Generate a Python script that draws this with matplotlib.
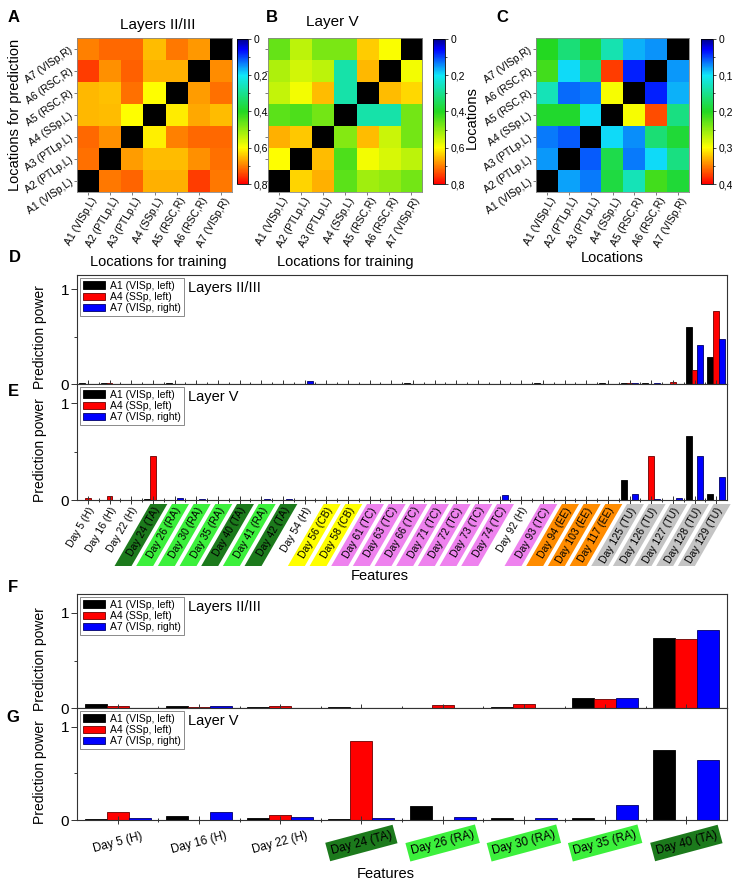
import numpy as np
import matplotlib
matplotlib.use("Agg")
import matplotlib.pyplot as plt
from matplotlib.colors import LinearSegmentedColormap
from matplotlib.patches import Polygon
from matplotlib.ticker import FixedLocator, MultipleLocator
from matplotlib.transforms import blended_transform_factory as blend

plt.rcParams["font.family"] = ["Liberation Sans", "DejaVu Sans"]

W, H = 732, 888
nan = np.nan

# ---- heat maps: rows = prediction location A1..A7 (bottom->top), cols = training A1..A7 ----
locs = ["A1 (VISp,L)", "A2 (PTLp,L)", "A3 (PTLp,L)", "A4 (SSp,L)",
        "A5 (RSC,R)", "A6 (RSC,R)", "A7 (VISp,R)"]
heat_l23 = [
    [nan, 0.706, 0.720, 0.662, 0.662, 0.750, 0.705],
    [0.712, nan, 0.675, 0.650, 0.650, 0.687, 0.712],
    [0.717, 0.687, nan, 0.612, 0.700, 0.717, 0.717],
    [0.656, 0.650, 0.600, nan, 0.613, 0.668, 0.650],
    [0.656, 0.648, 0.712, 0.600, nan, 0.675, 0.712],
    [0.750, 0.687, 0.725, 0.662, 0.662, nan, 0.690],
    [0.700, 0.717, 0.717, 0.650, 0.705, 0.680, nan],
]
heat_l5 = [
    [nan, 0.634, 0.662, 0.450, 0.513, 0.500, 0.475],
    [0.600, nan, 0.650, 0.438, 0.590, 0.563, 0.538],
    [0.662, 0.643, nan, 0.488, 0.650, 0.550, 0.475],
    [0.450, 0.438, 0.475, nan, 0.274, 0.274, 0.475],
    [0.544, 0.590, 0.650, 0.274, nan, 0.650, 0.630],
    [0.525, 0.557, 0.538, 0.274, 0.656, nan, 0.588],
    [0.460, 0.538, 0.480, 0.480, 0.640, 0.595, nan],
]
heat_dist = [
    [nan, 0.079, 0.067, 0.185, 0.131, 0.215, 0.190],
    [0.076, nan, 0.057, 0.180, 0.067, 0.096, 0.156],
    [0.067, 0.057, nan, 0.096, 0.072, 0.162, 0.190],
    [0.195, 0.195, 0.096, nan, 0.296, 0.369, 0.156],
    [0.131, 0.062, 0.067, 0.296, nan, 0.038, 0.084],
    [0.215, 0.096, 0.162, 0.375, 0.038, nan, 0.076],
    [0.200, 0.160, 0.190, 0.133, 0.084, 0.074, nan],
]

# ---- bar data ----
series = ["A1 (VISp, left)", "A4 (SSp, left)", "A7 (VISp, right)"]
features = ["Day 5 (H)", "Day 16 (H)", "Day 22 (H)", "Day 24 (TA)", "Day 26 (RA)",
            "Day 30 (RA)", "Day 35 (RA)", "Day 40 (TA)", "Day 41 (RA)", "Day 42 (TA)",
            "Day 54 (H)", "Day 56 (CB)", "Day 58 (CB)", "Day 61 (TC)", "Day 63 (TC)",
            "Day 66 (TC)", "Day 71 (TC)", "Day 72 (TC)", "Day 73 (TC)", "Day 74 (TC)",
            "Day 92 (H)", "Day 93 (TC)", "Day 94 (EE)", "Day 103 (EE)", "Day 117 (EE)",
            "Day 125 (TU)", "Day 126 (TU)", "Day 127 (TU)", "Day 128 (TU)", "Day 129 (TU)"]
d_a1 = [0.008, 0.006, 0.004, 0.003, 0.006, 0.003, 0.002, 0.004, 0.002, 0.003,
        0.004, 0.005, 0.003, 0.002, 0.003, 0.006, 0.003, 0.002, 0.003, 0.004,
        0.003, 0.006, 0.005, 0.004, 0.006, 0.012, 0.010, 0.004, 0.60, 0.28]
d_a4 = [0.004, 0.007, 0.003, 0.005, 0.003, 0.004, 0.003, 0.002, 0.003, 0.002,
        0.003, 0.002, 0.003, 0.004, 0.002, 0.003, 0.002, 0.004, 0.003, 0.002,
        0.004, 0.003, 0.004, 0.003, 0.004, 0.006, 0.004, 0.022, 0.15, 0.77]
d_a7 = [0.003, 0.002, 0.004, 0.002, 0.003, 0.002, 0.003, 0.003, 0.002, 0.004,
        0.030, 0.003, 0.002, 0.003, 0.002, 0.002, 0.003, 0.002, 0.003, 0.002,
        0.003, 0.002, 0.003, 0.002, 0.003, 0.008, 0.007, 0.005, 0.41, 0.48]
e_a1 = [0.003, 0.002, 0.002, 0.008, 0.003, 0.002, 0.002, 0.003, 0.002, 0.002,
        0.002, 0.003, 0.002, 0.003, 0.002, 0.005, 0.002, 0.003, 0.002, 0.002,
        0.002, 0.003, 0.003, 0.002, 0.003, 0.21, 0.002, 0.005, 0.66, 0.06]
e_a4 = [0.018, 0.040, 0.002, 0.46, 0.002, 0.002, 0.002, 0.003, 0.002, 0.002,
        0.002, 0.002, 0.002, 0.002, 0.002, 0.002, 0.002, 0.002, 0.002, 0.002,
        0.002, 0.002, 0.002, 0.002, 0.002, 0.002, 0.46, 0.002, 0.002, 0.002]
e_a7 = [0.002, 0.002, 0.002, 0.002, 0.020, 0.012, 0.003, 0.003, 0.012, 0.010,
        0.003, 0.003, 0.002, 0.003, 0.002, 0.002, 0.003, 0.002, 0.003, 0.050,
        0.003, 0.002, 0.002, 0.003, 0.002, 0.060, 0.010, 0.020, 0.46, 0.24]

features_short = ["Day 5 (H)", "Day 16 (H)", "Day 22 (H)", "Day 24 (TA)",
                  "Day 26 (RA)", "Day 30 (RA)", "Day 35 (RA)", "Day 40 (TA)"]
f_a1 = [0.040, 0.020, 0.010, 0.010, 0.005, 0.015, 0.110, 0.74]
f_a4 = [0.025, 0.010, 0.020, 0.005, 0.030, 0.045, 0.095, 0.73]
f_a7 = [0.0, 0.020, 0.0, 0.0, 0.0, 0.005, 0.105, 0.82]
g_a1 = [0.013, 0.040, 0.020, 0.010, 0.150, 0.025, 0.025, 0.75]
g_a4 = [0.085, 0.0, 0.055, 0.85, 0.0, 0.0, 0.0, 0.0]
g_a7 = [0.025, 0.090, 0.030, 0.020, 0.030, 0.025, 0.160, 0.64]

CLASS_COL = {"TA": "#1c7a1c", "RA": "#3cf03c", "CB": "#ffff00", "TC": "#ee82ee",
             "EE": "#ff8c00", "TU": "#c4c4c4"}

cmap = LinearSegmentedColormap.from_list("origin", [
    (0.0, "#00008c"), (0.07, "#0000ff"), (0.25, "#10e8f8"), (0.5, "#22d822"),
    (0.75, "#ffff00"), (0.875, "#ff8000"), (1.0, "#ff0000")])
cmap.set_bad("black")

fig = plt.figure(figsize=(W / 100, H / 100), dpi=100)


def rect(x0, y0, x1, y1):
    return [x0 / W, 1 - y1 / H, (x1 - x0) / W, (y1 - y0) / H]


def ftext(x, y, s, **kw):
    fig.text(x / W, 1 - y / H, s, **kw)


def heatmap(box, cbox, data, vmax, cticks, ylabels=True):
    ax = fig.add_axes(rect(*box))
    im = ax.imshow(np.array(data, float), cmap=cmap, vmin=0, vmax=vmax, origin="lower",
                   aspect="auto", interpolation="nearest")
    ax.set_xticks(range(7))
    ax.set_yticks(range(7))
    ax.set_xticklabels([])
    ax.set_yticklabels([])
    ax.tick_params(length=2.5, width=0.6, color="#666666")
    for s in ax.spines.values():
        s.set_linewidth(0.6)
        s.set_color("#888888")
    trx = blend(ax.transData, ax.transAxes)
    try_ = blend(ax.transAxes, ax.transData)
    for i, lab in enumerate(locs):
        ax.text(i + 0.3, -0.04, lab, transform=trx, rotation=60, ha="right", va="center",
                rotation_mode="anchor", fontsize=7.5)
        if ylabels:
            ax.text(-0.035, i, lab, transform=try_, rotation=35, ha="right", va="center",
                    rotation_mode="anchor", fontsize=7.5)
    cax = fig.add_axes(rect(*cbox))
    cb = fig.colorbar(im, cax=cax)
    cb.set_ticks(cticks)
    cb.set_ticklabels([("%g" % t).replace(".", ",") for t in cticks])
    cax.yaxis.set_minor_locator(MultipleLocator((cticks[1] - cticks[0]) / 2))
    cax.invert_yaxis()
    cax.tick_params(which="both", labelsize=7.5, width=0.5, pad=1.5)
    cax.tick_params(which="major", length=2.5)
    cax.tick_params(which="minor", length=1.5)
    cb.outline.set_linewidth(0.6)


heatmap((77, 38, 232, 192), (237, 39, 248, 184), heat_l23, 0.8, [0, 0.2, 0.4, 0.6, 0.8])
heatmap((268, 38, 422, 192), (433, 39, 445, 184), heat_l5, 0.8, [0, 0.2, 0.4, 0.6, 0.8],
        ylabels=False)
heatmap((536, 38, 689, 192), (701, 39, 713, 184), heat_dist, 0.4, [0, 0.1, 0.2, 0.3, 0.4])

ftext(158, 25, "Layers II/III", fontsize=11, ha="center", va="center")
ftext(332, 22, "Layer V", fontsize=11, ha="center", va="center")
ftext(158, 262, "Locations for training", fontsize=10.5, ha="center", va="center")
ftext(345, 262, "Locations for training", fontsize=10.5, ha="center", va="center")
ftext(612, 258, "Locations", fontsize=10.5, ha="center", va="center")
ftext(15, 115, "Locations for prediction", fontsize=10.5, ha="center", va="center", rotation=90)
ftext(472, 118, "Locations", fontsize=10.5, ha="center", va="center", rotation=90)


def bar_panel(box, a1, a4, a7, ymax, title):
    x0, y0, x1, y1 = box
    ax = fig.add_axes(rect(*box))
    n = len(a1)
    x = np.arange(n)
    w = 0.27
    ax.bar(x - w, a1, w, color="black", edgecolor="black", lw=0.6, label=series[0])
    ax.bar(x, a4, w, color="#ff0000", edgecolor="#6a0000", lw=0.6, label=series[1])
    ax.bar(x + w, a7, w, color="#0000ff", edgecolor="#00006a", lw=0.6, label=series[2])
    ax.set_xlim(-0.5, n - 0.5)
    ax.set_ylim(0, ymax)
    ax.set_yticks([0, 1])
    ax.set_yticklabels(["0", "1"])
    ax.yaxis.set_minor_locator(FixedLocator([0.5]))
    ax.set_xticks(x)
    ax.set_xticks(x[:-1] + 0.5, minor=True)
    ax.tick_params(axis="x", which="major", direction="inout", length=6, width=0.7,
                   labelbottom=False, color="#333333")
    ax.tick_params(axis="x", which="minor", direction="inout", length=3, width=0.7,
                   color="#333333")
    ax.tick_params(axis="y", which="major", direction="out", length=4, width=0.7,
                   labelsize=11, pad=1.5, color="#333333")
    ax.tick_params(axis="y", which="minor", direction="out", length=2.5, width=0.7,
                   color="#333333")
    for s in ax.spines.values():
        s.set_linewidth(0.8)
        s.set_color("#333333")
    leg = ax.legend(loc="upper left", fontsize=7.5, frameon=True, fancybox=False,
                    edgecolor="#555555", handlelength=2.1, handleheight=0.75, borderpad=0.3,
                    labelspacing=0.12, handletextpad=0.5, borderaxespad=0.25)
    leg.get_frame().set_linewidth(0.6)
    ax.text((188 - x0) / (x1 - x0), 1 - 13 / (y1 - y0), title, transform=ax.transAxes,
            fontsize=10.5, va="center")
    ftext(40, (y0 + y1) / 2 + 8, "Prediction power", fontsize=10, rotation=90,
          ha="center", va="center")
    return ax


def tag(label):
    return label.split("(")[1].rstrip(")")


# ---- D / E ----
bar_panel((77, 275, 727, 384), d_a1, d_a4, d_a7, 1.15, "Layers II/III")
bar_panel((77, 384, 727, 500), e_a1, e_a4, e_a7, 1.2, "Layer V")

step = 650 / len(features)
for i, lab in enumerate(features):
    xa = 77 + (i + 0.5) * step + 4
    ya = 508
    col = CLASS_COL.get(tag(lab))
    if col:
        xc, yt, yb = xa + 2, 504, 566
        sh = (yb - yt) / np.tan(np.radians(60))
        pts = [(xc - 8.5, yt), (xc + 8.5, yt), (xc + 8.5 - sh, yb), (xc - 8.5 - sh, yb)]
        fig.add_artist(Polygon([(px / W, 1 - py / H) for px, py in pts], closed=True,
                               transform=fig.transFigure, fc=col, ec="none", zorder=1))
    ftext(xa, ya, lab, fontsize=7.5, rotation=60, ha="right", va="center",
          rotation_mode="anchor", zorder=2)
ftext(380, 576, "Features", fontsize=10.5, ha="center", va="center")

# ---- F / G ----
bar_panel((77, 594, 727, 708), f_a1, f_a4, f_a7, 1.2, "Layers II/III")
bar_panel((77, 708, 727, 820), g_a1, g_a4, g_a7, 1.2, "Layer V")

step = 650 / len(features_short)
for i, lab in enumerate(features_short):
    col = CLASS_COL.get(tag(lab))
    box = dict(boxstyle="square,pad=0.3", fc=col, ec="none") if col else None
    ftext(77 + (i + 0.5) * step, 843, lab, fontsize=8.5, rotation=15, ha="center",
          va="center", rotation_mode="anchor", bbox=box)
ftext(386, 874, "Features", fontsize=10.5, ha="center", va="center")

# ---- panel letters ----
for letter, (lx, ly) in {"A": (14, 18), "B": (272, 18), "C": (502, 18), "D": (15, 257),
                         "E": (13, 392), "F": (13, 588), "G": (13, 717)}.items():
    ftext(lx, ly, letter, fontsize=12, fontweight="bold", ha="center", va="center")

fig.savefig("out.png", dpi=100, facecolor="white")
